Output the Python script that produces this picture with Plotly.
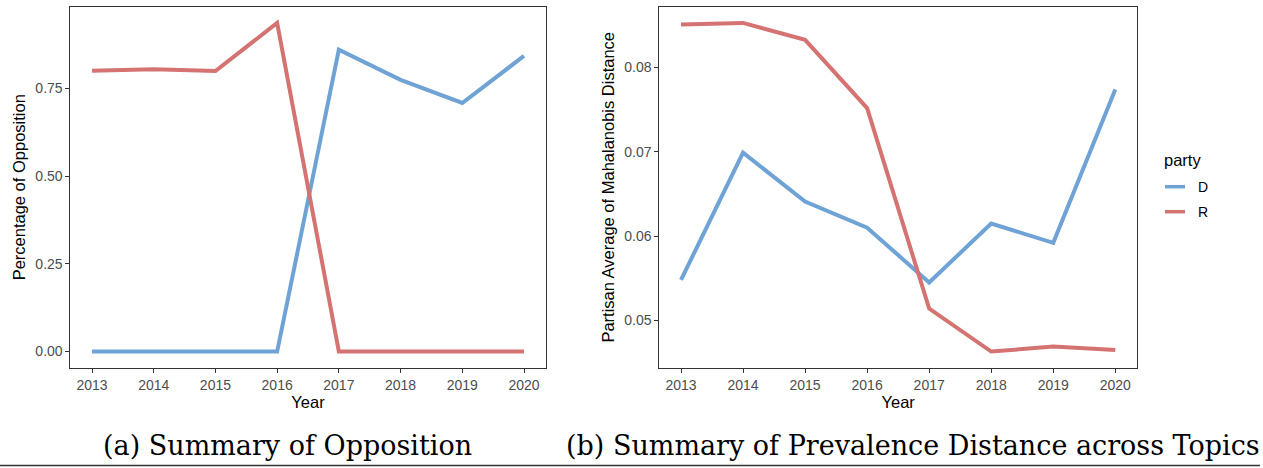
import plotly.graph_objects as go

# Yearly summaries by party
years = [2013, 2014, 2015, 2016, 2017, 2018, 2019, 2020]

# (a) share of opposition
opp_D = [0.0, 0.0, 0.0, 0.0, 0.860, 0.774, 0.708, 0.842]
opp_R = [0.800, 0.804, 0.799, 0.936, 0.0, 0.0, 0.0, 0.0]

# (b) partisan average Mahalanobis distance
dist_D = [0.0548, 0.0699, 0.0641, 0.0610, 0.0545, 0.0615, 0.0592, 0.0774]
dist_R = [0.0851, 0.0853, 0.0833, 0.0752, 0.0514, 0.0463, 0.0469, 0.0465]

opp_ticks = [0.0, 0.25, 0.50, 0.75]
opp_ticklabels = ["0.00", "0.25", "0.50", "0.75"]
dist_ticks = [0.05, 0.06, 0.07, 0.08]
dist_ticklabels = ["0.05", "0.06", "0.07", "0.08"]

parties = ["D", "R"]
colors = {"D": "#6FA3D6", "R": "#D57373"}

W, H = 1263, 468


def px_x(p):
    return p / W


def px_y(p):
    return (H - p) / H


fig = go.Figure()

series = [
    ("x", "y", {"D": opp_D, "R": opp_R}),
    ("x2", "y2", {"D": dist_D, "R": dist_R}),
]
for xa, ya, data in series:
    for party in parties:
        fig.add_trace(go.Scatter(
            x=years, y=data[party], mode="lines", name=party,
            line=dict(color=colors[party], width=4),
            xaxis=xa, yaxis=ya, showlegend=False,
        ))


def pad_range(lo, hi, frac=0.05):
    span = hi - lo
    return [lo - span * frac, hi + span * frac]


tick_font = dict(family="Liberation Sans, Arial, sans-serif", size=14, color="#4D4D4D")
title_font = dict(family="Liberation Sans, Arial, sans-serif", size=16.5, color="#000000")

common_axis = dict(
    showline=True, mirror=True, linecolor="#333333", linewidth=1,
    showgrid=False, zeroline=False,
    ticks="outside", ticklen=4, tickwidth=1, tickcolor="#333333",
    tickfont=tick_font,
)

y_dom = [px_y(368), px_y(6.5)]
xr = pad_range(min(years), max(years))

fig.update_layout(
    width=W, height=H,
    margin=dict(l=0, r=0, t=0, b=0),
    paper_bgcolor="white", plot_bgcolor="white",
    showlegend=False,
    xaxis=dict(common_axis, domain=[px_x(70.4), px_x(545.6)], range=xr,
               tickvals=years, ticktext=[str(v) for v in years],
               title=dict(text="Year", font=title_font, standoff=3), anchor="y"),
    yaxis=dict(common_axis, domain=y_dom,
               range=pad_range(0, max(opp_D + opp_R)),
               tickvals=opp_ticks, ticktext=opp_ticklabels,
               title=dict(text="Percentage of Opposition", font=title_font, standoff=5),
               anchor="x"),
    xaxis2=dict(common_axis, domain=[px_x(659.3), px_x(1137)], range=xr,
                tickvals=years, ticktext=[str(v) for v in years],
                title=dict(text="Year", font=title_font, standoff=3), anchor="y2"),
    yaxis2=dict(common_axis, domain=y_dom,
                range=pad_range(min(dist_D + dist_R), max(dist_D + dist_R)),
                tickvals=dist_ticks, ticktext=dist_ticklabels,
                title=dict(text="Partisan Average of Mahalanobis Distance",
                           font=title_font, standoff=5),
                anchor="x2"),
)

# Legend drawn beside panel (b)
annotations = [
    dict(text="party", x=px_x(1162), y=px_y(160), xref="paper", yref="paper",
         xanchor="left", yanchor="middle", showarrow=False, font=title_font),
]
shapes = []
for i, party in enumerate(parties):
    yc = px_y(186.7 + 25 * i)
    shapes.append(dict(type="line", xref="paper", yref="paper",
                       x0=px_x(1165), x1=px_x(1185), y0=yc, y1=yc,
                       line=dict(color=colors[party], width=3.5)))
    annotations.append(dict(text=party, x=px_x(1196), y=yc, xref="paper", yref="paper",
                            xanchor="left", yanchor="middle", showarrow=False,
                            font=dict(tick_font, color="#000000")))

# Sub-figure captions and rule
cap_font = dict(family="DejaVu Serif, serif", size=27, color="#000000")
annotations.append(dict(text="(a) Summary of Opposition", x=px_x(287.5), y=px_y(445),
                        xref="paper", yref="paper", xanchor="center", yanchor="middle",
                        showarrow=False, font=cap_font))
annotations.append(dict(text="(b) Summary of Prevalence Distance across Topics",
                        x=px_x(912.5), y=px_y(445), xref="paper", yref="paper",
                        xanchor="center", yanchor="middle", showarrow=False, font=cap_font))
shapes.append(dict(type="line", xref="paper", yref="paper",
                   x0=0, x1=px_x(1260), y0=px_y(465.5), y1=px_y(465.5),
                   line=dict(color="#333333", width=1.5)))

fig.update_layout(annotations=annotations, shapes=shapes)

fig.write_html("out.html")
